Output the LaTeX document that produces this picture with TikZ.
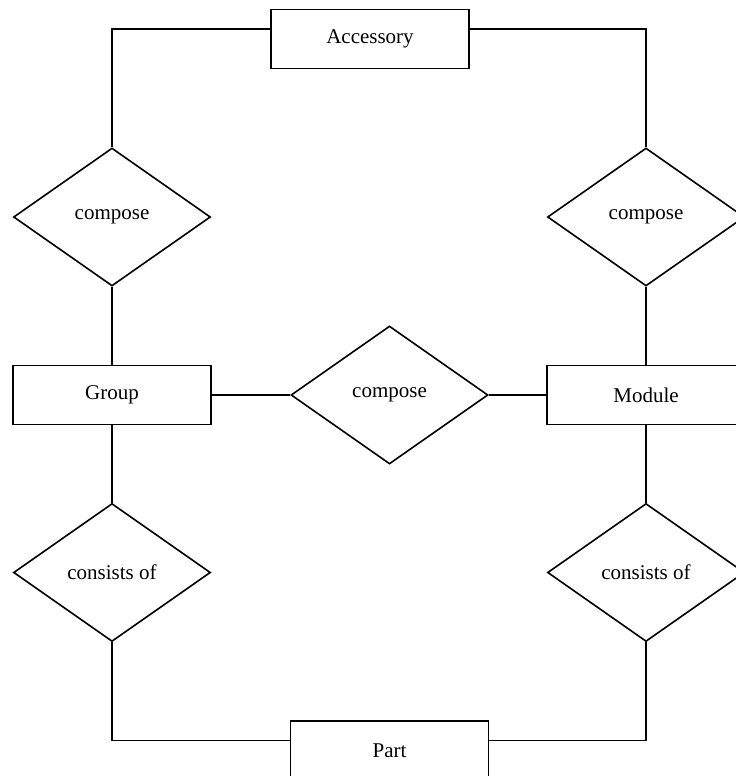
\documentclass[tikz,border=0pt]{standalone}
\usepackage{xcolor}
\usepackage{fontspec}
\setmainfont{Liberation Serif}
\usepackage{tikz}
\usetikzlibrary{positioning, shapes.geometric, calc}
\definecolor{ink}{HTML}{000000}

\begin{document}
\begin{tikzpicture}[x=1pt, y=1pt,
    font=\fontsize{10.5}{12.6}\selectfont,
    entity/.style={draw=ink, line width=0.8pt, rectangle, minimum width=99pt, minimum height=29.5pt, inner sep=0pt},
    relation/.style={draw=ink, line width=0.8pt, diamond, minimum width=98.5pt, minimum height=69pt, inner sep=0pt},
    link/.style={draw=ink, line width=0.8pt}]
    \useasboundingbox (0,0) rectangle (367.5,-388);
    % entities
    \node[entity] (acc) at (185,-19.5) {Accessory};
    \node[entity] (grp) at (56,-197.5) {Group};
    \node[entity] (mod) at (323,-197.5) {Module};
    \node[entity] (prt) at (194.75,-375.25) {Part};
    % relations
    \node[relation] (cmpL) at (56,-108.5) {compose};
    \node[relation] (cmpR) at (323,-108.5) {compose};
    \node[relation] (cmpM) at (194.75,-197.5) {compose};
    \node[relation] (conL) at (56,-286.25) {consists of};
    \node[relation] (conR) at (323,-286.25) {consists of};
    % connectors
    \draw[link] ([yshift=5pt]acc.west) -| (cmpL.north);
    \draw[link] ([yshift=5pt]acc.east) -| (cmpR.north);
    \draw[link] (cmpL.south) -- (grp.north);
    \draw[link] (cmpR.south) -- (mod.north);
    \draw[link] (grp.east) -- (cmpM.west);
    \draw[link] (cmpM.east) -- (mod.west);
    \draw[link] (grp.south) -- (conL.north);
    \draw[link] (mod.south) -- (conR.north);
    \draw[link] (conL.south) |- ([yshift=5pt]prt.west);
    \draw[link] (conR.south) |- ([yshift=5pt]prt.east);
\end{tikzpicture}
\end{document}
